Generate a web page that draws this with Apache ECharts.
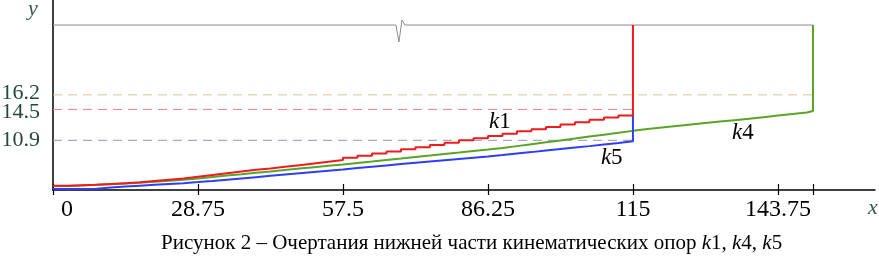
<!DOCTYPE html>
<html>
<head>
<meta charset="utf-8">
<script src="https://cdn.jsdelivr.net/npm/echarts@6/dist/echarts.min.js"></script>
<style>
  html, body { margin: 0; padding: 0; background: #fff; }
  #main { width: 879px; height: 269px; }
</style>
</head>
<body>
<div id="main"></div>
<script>
// ширина ступеньки по x
var stepX = 2.875;

// ординаты ступенек
var k1Y = [5.6, 5.65, 5.7, 5.8, 5.9, 6.0, 6.15, 6.3, 6.45, 6.65, 6.85,
  7.05, 7.25, 7.45, 7.6, 7.8, 8.0, 8.2, 8.4, 8.6, 8.85,
  9.1, 9.35, 9.6, 9.85, 10.1, 10.35, 10.6, 10.9, 11.15, 11.4,
  11.65, 11.95, 12.2, 12.45, 12.75, 13.0, 13.3, 13.55, 13.8, 14.08];
var k4Y = [5.57, 5.62, 5.7, 5.78, 5.86, 5.95, 6.05, 6.17, 6.3, 6.45, 6.62,
  6.78, 6.93, 7.1, 7.26, 7.43, 7.6, 7.76, 7.92, 8.08, 8.25,
  8.42, 8.6, 8.77, 8.95, 9.12, 9.3, 9.47, 9.65, 9.82, 10.0,
  10.22, 10.44, 10.66, 10.88, 11.1, 11.33, 11.55, 11.77, 12.0, 12.22,
  12.4, 12.57, 12.74, 12.91, 13.08, 13.25, 13.42, 13.6, 13.78, 13.96, 14.14, 14.32];
var k5Y = [5.22, 5.22, 5.25, 5.38, 5.5, 5.6, 5.7, 5.8, 5.9, 6.02, 6.15,
  6.3, 6.45, 6.6, 6.75, 6.9, 7.05, 7.2, 7.35, 7.5, 7.67,
  7.82, 7.97, 8.12, 8.27, 8.42, 8.57, 8.72, 8.87, 9.02, 9.18,
  9.35, 9.52, 9.7, 9.88, 10.05, 10.22, 10.4, 10.58, 10.8, 11.05];

var k1End = 115;
var k4End = [150.7, 14.43];
var topY = 24.35;
// излом верхней линии
var breakX = [68.0, 68.6, 69.2, 69.8];
var breakY = [24.35, 22.37, 24.93, 24.35];

var xTicks = [0, 28.75, 57.5, 86.25, 115, 143.75];
var levels = [16.2, 14.5, 10.9];
var levelEnds = [150.7, 115, 115];
var levelColors = ['#d6c98e', '#f0808e', '#9590c0'];
var levelLabelShift = [-2, 3, 0];

var curveNames = ['k1', 'k4', 'k5'];
var curveLabelPos = [[88.6, 13.03], [136.8, 11.75], [110.8, 8.82]];

function stairs(ys) {
  var out = [];
  for (var i = 0; i < ys.length; i++) out.push([i * stepX, ys[i]]);
  return out;
}

var k1Data = stairs(k1Y);
k1Data.push([k1End, topY]);
var k4Data = stairs(k4Y);
k4Data.push(k4End);
k4Data.push([k4End[0], topY]);
var k5Data = stairs(k5Y);
k5Data.push([k1End, k1Y[k1Y.length - 1]]);

var topData = [[0, topY]];
for (var b = 0; b < breakX.length; b++) topData.push([breakX[b], breakY[b]]);
topData.push([k4End[0], topY]);

var serif = 'Liberation Serif';

var series = [{
  type: 'line', data: topData, symbol: 'none', silent: true,
  lineStyle: { color: '#8c8c8c', width: 1 }
}];

// пунктирные уровни с подписями
for (var l = 0; l < levels.length; l++) {
  series.push({
    type: 'line', silent: true, symbol: 'none',
    data: [[0, levels[l]], [levelEnds[l], levels[l]]],
    lineStyle: { color: levelColors[l], width: 1, type: [9, 6] },
    markPoint: {
      symbol: 'circle', symbolSize: 0, silent: true,
      label: {
        show: true, position: 'left', distance: 13, offset: [0, levelLabelShift[l]],
        formatter: String(levels[l]),
        color: '#23473a', fontFamily: serif, fontSize: 22
      },
      data: [{ coord: [0, levels[l]] }]
    }
  });
}

var kLabels = [];
for (var c = 0; c < curveNames.length; c++) {
  kLabels.push({ coord: curveLabelPos[c], value: curveNames[c] });
}

series.push({
  name: 'k4', type: 'line', data: k4Data, step: 'end', symbol: 'none',
  lineStyle: { color: '#5aa427', width: 2 }
});
series.push({
  name: 'k5', type: 'line', data: k5Data, step: 'end', symbol: 'none',
  lineStyle: { color: '#2e3ef0', width: 2 }
});
series.push({
  name: 'k1', type: 'line', data: k1Data, step: 'end', symbol: 'none',
  lineStyle: { color: '#ee1c1c', width: 2 },
  markPoint: {
    symbol: 'circle', symbolSize: 0, silent: true,
    label: {
      show: true, position: 'inside',
      formatter: function (p) { return '{i|k}' + p.value.slice(1); },
      color: '#000', fontFamily: serif, fontSize: 23,
      rich: { i: { fontStyle: 'italic', fontFamily: serif, fontSize: 23, color: '#000' } }
    },
    data: kLabels
  }
});

var myChart = echarts.init(document.getElementById('main'));

var option = {
  animation: false,
  grid: { left: 53, right: 4, top: 0, bottom: 79, outerBoundsMode: 'none' },
  xAxis: [{
    type: 'value', min: 0, max: 163,
    axisLine: { onZero: false, lineStyle: { color: '#000', width: 1.5 } },
    axisTick: { show: true, length: 5, lineStyle: { color: '#000', width: 1.2 },
      customValues: xTicks.concat([k4End[0]]) },
    axisLabel: {
      customValues: xTicks, margin: 8, color: '#000', fontFamily: serif, fontSize: 24,
      alignMinLabel: 'left',
      formatter: function (v) { return v === 0 ? '{z|0}' : String(v); },
      rich: { z: { padding: [0, 0, 0, 8], fontFamily: serif, fontSize: 24, color: '#000' } }
    },
    splitLine: { show: false }
  }, {
    type: 'value', min: 0, max: 163, position: 'bottom',
    axisLine: { show: false, onZero: false },
    axisTick: { show: true, inside: true, length: 6, lineStyle: { color: '#000', width: 1.2 },
      customValues: xTicks.concat([k4End[0]]) },
    axisLabel: { show: false },
    splitLine: { show: false }
  }],
  yAxis: {
    type: 'value', min: 5.1, max: 27.27,
    axisLine: { show: true, onZero: false, lineStyle: { color: '#000', width: 1.5 } },
    axisTick: { show: false },
    axisLabel: { show: false },
    splitLine: { show: false }
  },
  graphic: [
    { type: 'text', left: 28, top: -2, style: { text: 'y', font: 'italic 22px "Liberation Serif"', fill: '#3c5a4c' } },
    { type: 'text', left: 868, top: 197, style: { text: 'x', font: 'italic 22px "Liberation Serif"', fill: '#3c5a4c' } },
    {
      type: 'text', left: 161, top: 233,
      style: {
        text: 'Рисунок 2 – Очертания нижней части кинематических опор {i|k}1, {i|k}4, {i|k}5',
        font: '21px "Liberation Serif"', fill: '#000',
        rich: { i: { fontStyle: 'italic', fontFamily: serif, fontSize: 21 } }
      }
    }
  ],
  series: series
};

myChart.setOption(option);
</script>
</body>
</html>
